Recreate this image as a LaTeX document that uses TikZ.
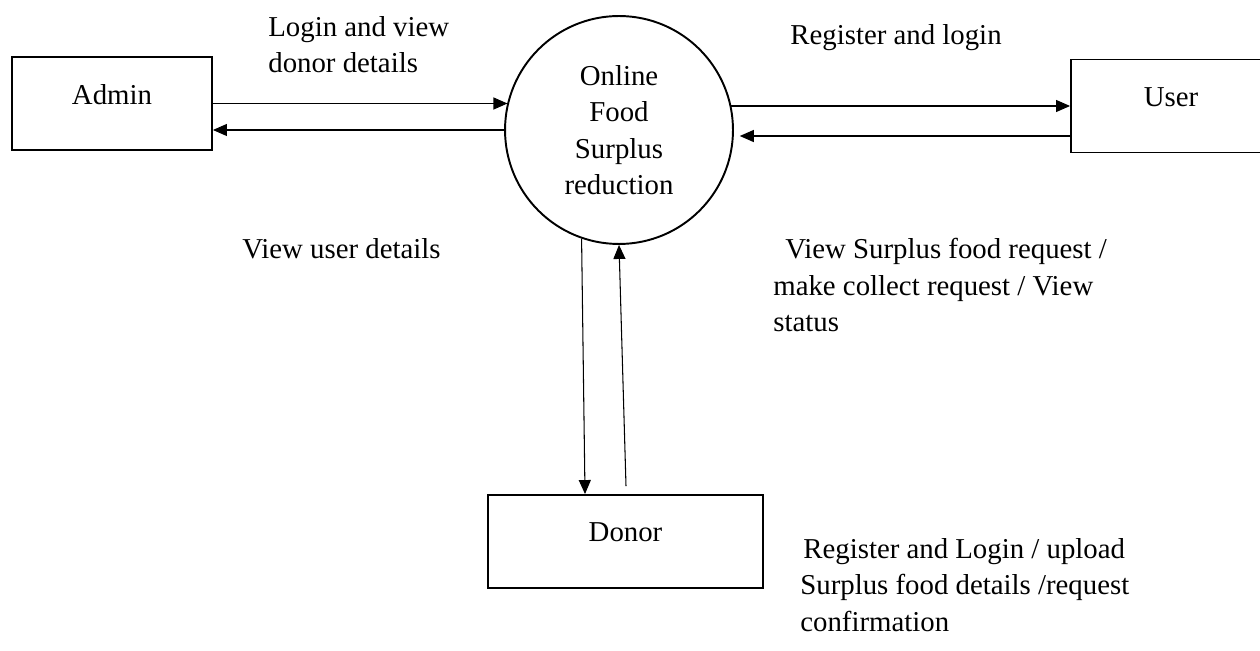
\documentclass[tikz,border=0pt]{standalone}
\usepackage{fontspec}
\setmainfont{Liberation Serif}
\usetikzlibrary{arrows.meta,positioning}

\begin{document}
\begin{tikzpicture}[x=0.02cm,y=-0.02cm,font=\fontsize{16.4}{20.7}\selectfont,
    entity/.style={draw,line width=1.1pt,minimum width=4cm,minimum height=1.86cm,text depth=0.36cm},
    process/.style={draw,circle,line width=1.1pt,minimum size=4.56cm,inner sep=0pt,align=center},
    flow/.style={-{Triangle[length=0.28cm,width=0.24cm]},line width=0.6pt},
    lbl/.style={anchor=north west,align=left,inner sep=0pt}]
  \useasboundingbox (0,0) rectangle (1260,651);
  \clip (0,0) rectangle (1260,651);
               \node[process] (circ) at (619,130) {Online\\Food\\Surplus\\reduction};
               \node[entity] (admin) at (112,103.5) {Admin};
               \node[entity] (user) at (1171,106) {User};
               \node[entity,minimum width=5.5cm] (donor) at (625.5,541.5) {Donor};
		\path[flow]
			(admin.east)		edge (circ.166.6 |- admin.east)
			(circ.west)		edge (admin.east |- circ.west)
			(circ.12 |- user.west)	edge (user.west)
			(user.west |- circ.-3)	edge ([xshift=0.12cm]circ.-3)
			(circ.-109.5)		edge ([xshift=-0.81cm]donor.north)
			([xshift=0.01cm,yshift=0.16cm]donor.north) edge (circ.south);
		% flow labels
		\node[lbl] (lblA) at (268,16) {Login and view\\donor details};
		\node[lbl] (lblB) at (790,24) {Register and login};
		\node[lbl] (lblC) at (242,238) {View user details};
		\node[lbl] (lblD) at (773,238) {\hspace*{0.24cm}View Surplus food request /\\make collect request / View\\status};
		\node[lbl] (lblE) at (800,538) {\hspace*{0.06cm}Register and Login / upload\\Surplus food details /request\\confirmation};
            \end{tikzpicture}
\end{document}
